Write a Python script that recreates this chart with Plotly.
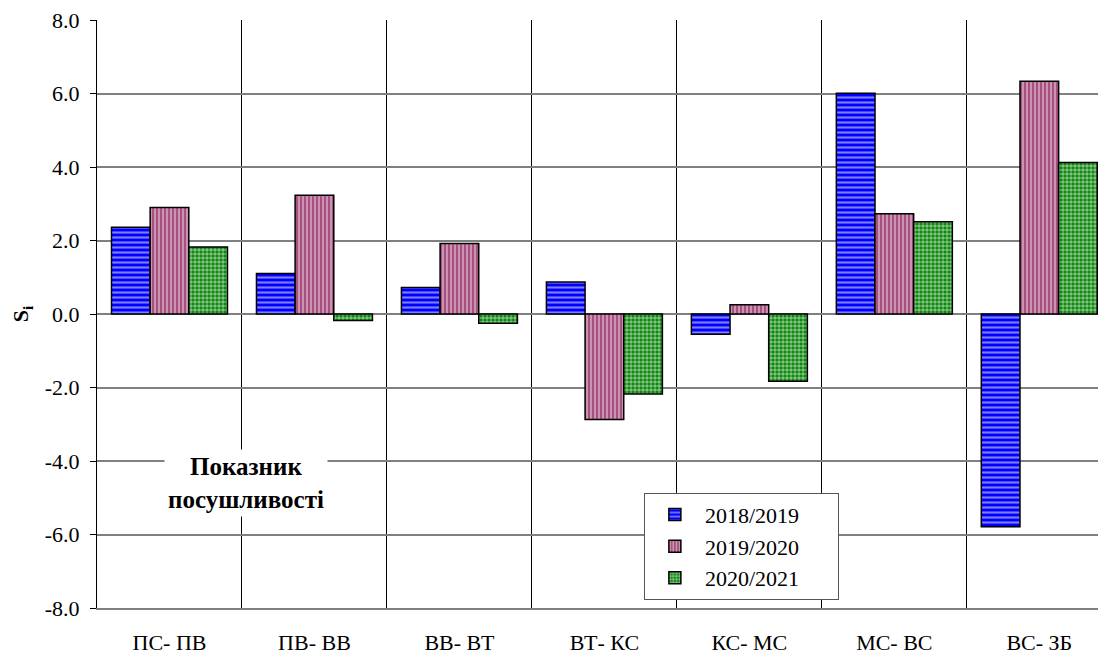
import plotly.graph_objects as go

# data
categories = ['ПС- ПВ', 'ПВ- ВВ', 'ВВ- ВТ', 'ВТ- КС', 'КС- МС', 'МС- ВС', 'ВС- ЗБ']
s_2018_2019 = [2.36, 1.10, 0.72, 0.87, -0.55, 6.01, -5.79]
s_2019_2020 = [2.90, 3.23, 1.92, -2.87, 0.25, 2.73, 6.33]
s_2020_2021 = [1.82, -0.18, -0.25, -2.18, -1.83, 2.51, 4.12]
y_ticks = [-8, -6, -4, -2, 0, 2, 4, 6, 8]

FONT = 'Liberation Serif'
x_pos = list(range(len(categories)))
PAD = '\u00a0' * 6  # right padding inside the legend box

# coloured background with thin white lines/dots on top
series = [
    ('2018/2019', s_2018_2019, dict(shape='-', fgcolor='white', bgcolor='#0000FF', size=5, solidity=0.42)),
    ('2019/2020', s_2019_2020, dict(shape='|', fgcolor='#F4E6EE', bgcolor='#A8507F', size=4, solidity=0.45)),
    ('2020/2021', s_2020_2021, dict(shape='.', fgcolor='white', bgcolor='#008000', size=4, solidity=0.65)),
]

fig = go.Figure()
for name, vals, pat in series:
    fig.add_trace(go.Bar(
        x=x_pos, y=vals, name=name + PAD,
        marker=dict(color=pat['bgcolor'], pattern=pat, line=dict(color='black', width=1.5)),
    ))

# the page body has an 8px margin, so the figure is sized/offset for it
fig.update_layout(
    width=1098, height=647,
    margin=dict(l=89, r=0, t=9, b=46),
    plot_bgcolor='white', paper_bgcolor='white',
    font=dict(family=FONT, size=22, color='black'),
    barmode='group', bargap=0.2, bargroupgap=0,
    showlegend=True,
    legend=dict(
        x=0.542, y=0.196, xanchor='left', yanchor='top',
        bgcolor='white', bordercolor='#555555', borderwidth=1,
        font=dict(family=FONT, size=22, color='black'),
        itemwidth=50,
    ),
    annotations=[dict(
        x=0.528, y=-4.6, xref='x', yref='y',
        text='<b>Показник<br>посушливості</b>', showarrow=False,
        font=dict(family=FONT, size=25, color='black'),
        bgcolor='white', borderpad=3,
    )],
)

fig.update_xaxes(
    range=[-0.5, 6.46],
    tickvals=x_pos, ticktext=categories,
    tickfont=dict(family=FONT, size=22, color='black'),
    showgrid=False, zeroline=False,
    showline=True, linecolor='#808080', linewidth=1.5,
    ticks='', ticklabelstandoff=14,
    minor=dict(tick0=0.5, dtick=1, showgrid=True, gridcolor='black', gridwidth=1),
)
fig.update_yaxes(
    range=[-8, 8],
    tickvals=y_ticks, ticktext=[f'{v:.1f}' for v in y_ticks],
    tickfont=dict(family=FONT, size=22, color='black'),
    ticklabeloverflow='allow',
    showgrid=True, gridcolor='#808080', gridwidth=1.5,
    zeroline=True, zerolinecolor='#808080', zerolinewidth=1.5,
    showline=True, linecolor='black', linewidth=1.2,
    ticks='outside', ticklen=6, tickcolor='black', ticklabelstandoff=6,
    title=dict(text='<b>S<sub>i</sub></b>', font=dict(family=FONT, size=22, color='black'), standoff=20),
)

fig.write_html('out.html')
